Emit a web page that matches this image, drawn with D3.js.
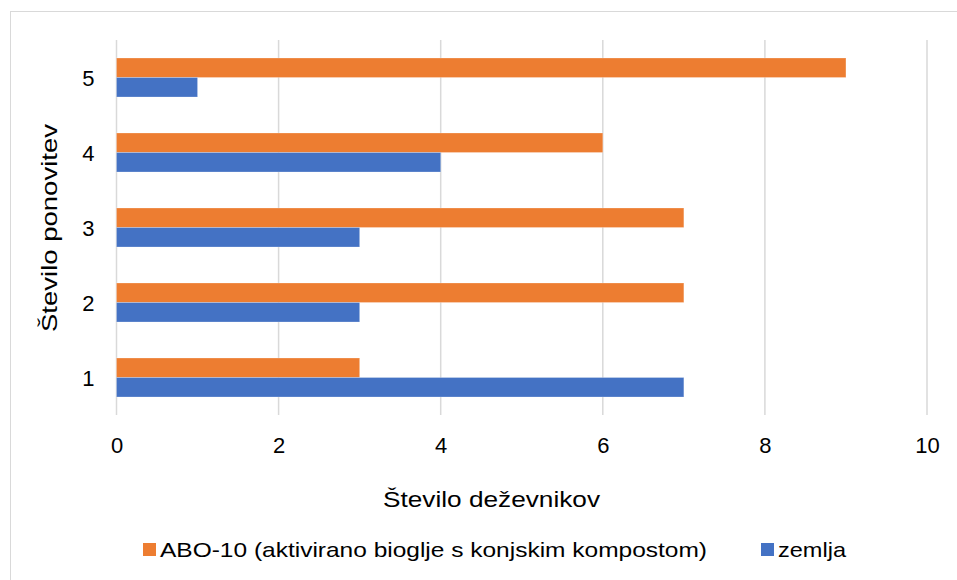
<!DOCTYPE html>
<html>
<head>
<meta charset="utf-8">
<script src="https://cdn.jsdelivr.net/npm/d3@7/dist/d3.min.js"></script>
<style>
  html, body { margin: 0; padding: 0; background: #fff; }
  svg { display: block; font-family: "Liberation Sans", Arial, sans-serif; }
</style>
</head>
<body>
<svg id="chart" width="957" height="580"></svg>
<script>
// Repetitions (bottom to top) and earthworm counts per treatment
const categories = ["1", "2", "3", "4", "5"];
const seriesNames = ["ABO-10 (aktivirano bioglje s konjskim kompostom)", "zemlja"];
const aboValues = [3, 7, 7, 6, 9];
const zemljaValues = [7, 3, 3, 4, 1];
const xTicks = [0, 2, 4, 6, 8, 10];
const xTitle = "Število deževnikov";
const yTitle = "Število ponovitev";

const colors = { abo: "#ED7D31", zemlja: "#4472C4" };
const FONT = "Liberation Sans, Arial, sans-serif";

const svg = d3.select("#chart");

// outer chart frame
svg.append("rect")
  .attr("x", 10.5).attr("y", 11.5)
  .attr("width", 960).attr("height", 600)
  .attr("fill", "none").attr("stroke", "#d9d9d9").attr("stroke-width", 1);

const plot = { left: 116.5, right: 927, top: 40, bottom: 415 };

const x = d3.scaleLinear().domain([0, 10]).range([plot.left, plot.right]);
const y = d3.scaleBand().domain(categories.slice().reverse())
  .range([plot.top, plot.bottom]).paddingInner(0.48).paddingOuter(0.24);
const sub = d3.scaleBand().domain(["abo", "zemlja"]).range([0, y.bandwidth()]);

// vertical gridlines
svg.append("g").selectAll("line").data(xTicks).join("line")
  .attr("x1", d => x(d)).attr("x2", d => x(d))
  .attr("y1", plot.top).attr("y2", plot.bottom)
  .attr("stroke", "#d9d9d9").attr("stroke-width", 1.5);

const rows = categories.map((c, i) => ({ cat: c, abo: aboValues[i], zemlja: zemljaValues[i] }));

const groups = svg.append("g").selectAll("g").data(rows).join("g")
  .attr("transform", d => `translate(0,${y(d.cat)})`);

groups.selectAll("rect")
  .data(d => ["abo", "zemlja"].map(k => ({ key: k, value: d[k] })))
  .join("rect")
  .attr("x", x(0))
  .attr("y", d => sub(d.key))
  .attr("width", d => x(d.value) - x(0))
  .attr("height", sub.bandwidth())
  .attr("fill", d => colors[d.key])
  .attr("stroke", "rgba(255,255,255,0.25)")
  .attr("stroke-width", 1);

// x axis tick labels
const xAxis = d3.axisBottom(x).tickValues(xTicks).tickSize(0).tickPadding(0);
svg.append("g")
  .attr("transform", `translate(0,${plot.bottom})`)
  .call(xAxis)
  .call(g => g.select(".domain").remove())
  .call(g => g.selectAll("text")
    .attr("dy", null).attr("y", 38)
    .attr("font-size", 22).attr("fill", "#000")
    .attr("font-family", FONT));

// y axis tick labels
const yAxis = d3.axisLeft(y).tickSize(0).tickPadding(0);
svg.append("g")
  .attr("transform", `translate(${plot.left},0)`)
  .call(yAxis)
  .call(g => g.select(".domain").remove())
  .call(g => g.selectAll("text")
    .attr("x", -22).attr("dy", "0.38em")
    .attr("font-size", 22).attr("fill", "#000")
    .attr("font-family", FONT));

// axis titles
svg.append("text")
  .attr("x", 491.5).attr("y", 506.5)
  .attr("text-anchor", "middle")
  .attr("font-size", 22).attr("fill", "#000")
  .attr("textLength", 217).attr("lengthAdjust", "spacingAndGlyphs")
  .text(xTitle);

svg.append("text")
  .attr("transform", `translate(57,228) rotate(-90)`)
  .attr("text-anchor", "middle")
  .attr("font-size", 22).attr("fill", "#000")
  .attr("textLength", 208).attr("lengthAdjust", "spacingAndGlyphs")
  .text(yTitle);

// legend
const legendItems = [
  { name: seriesNames[0], color: colors.abo, x: 143, len: 547 },
  { name: seriesNames[1], color: colors.zemlja, x: 761, len: 68 }
];
const lg = svg.append("g").selectAll("g").data(legendItems).join("g")
  .attr("transform", d => `translate(${d.x},543)`);
lg.append("rect").attr("width", 13).attr("height", 13).attr("fill", d => d.color);
lg.append("text").attr("x", 17).attr("y", 14.3)
  .attr("font-size", 21).attr("fill", "#000")
  .attr("textLength", d => d.len).attr("lengthAdjust", "spacingAndGlyphs")
  .text(d => d.name);
</script>
</body>
</html>
